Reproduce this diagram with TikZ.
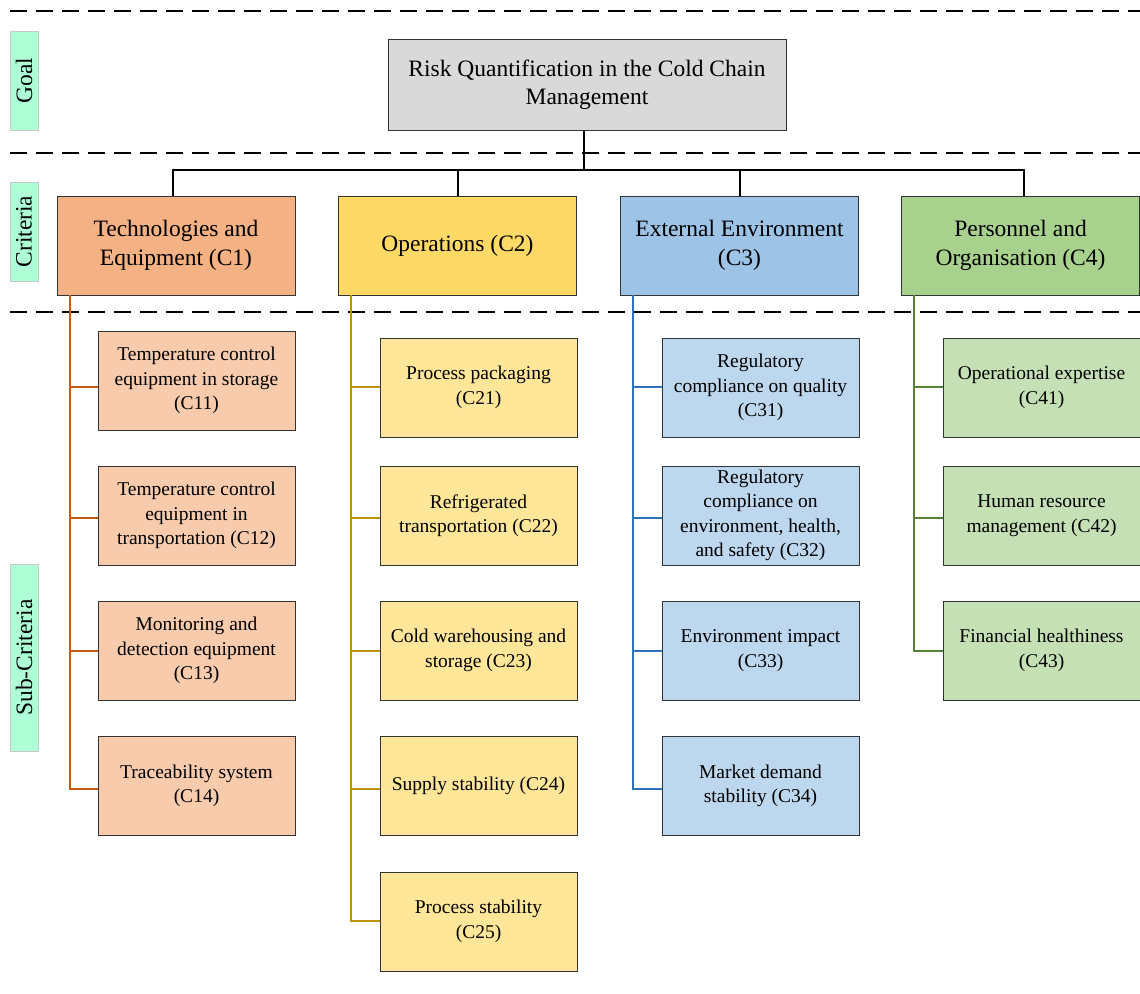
\documentclass[tikz,border=0pt]{standalone}
\usepackage{fontspec}
\setmainfont{Liberation Serif}
\usetikzlibrary{calc}
\definecolor{labfill}{HTML}{AEFFD6}
\definecolor{labdraw}{HTML}{C8C8C8}
\definecolor{goalfill}{HTML}{D9D9D9}
\definecolor{cA}{HTML}{F4B183}\definecolor{sA}{HTML}{F8CBAD}\definecolor{lA}{HTML}{C55A11}
\definecolor{cB}{HTML}{FFD966}\definecolor{sB}{HTML}{FFE699}\definecolor{lB}{HTML}{BF9000}
\definecolor{cC}{HTML}{9DC3E6}\definecolor{sC}{HTML}{BDD7EE}\definecolor{lC}{HTML}{2E75B6}
\definecolor{cD}{HTML}{A9D18E}\definecolor{sD}{HTML}{C5E0B4}\definecolor{lD}{HTML}{548235}
\tikzset{
  base/.style={draw=black!80, line width=1pt, align=center, inner sep=2pt, text=black},
  goalbox/.style={base, fill=goalfill, minimum width=398pt, minimum height=91pt, font=\fontsize{23.5}{28.5}\selectfont},
  critbox/.style={base, minimum width=238pt, minimum height=99pt, font=\fontsize{23.5}{28.5}\selectfont},
  subbox/.style={base, minimum width=197pt, minimum height=99pt, font=\fontsize{19.5}{24.5}\selectfont},
  levlab/.style={draw=labdraw, fill=labfill, line width=0.8pt, rotate=90, minimum height=28pt, inner sep=0pt, font=\fontsize{23.5}{28}\selectfont},
  sep/.style={line width=2pt, dash pattern=on 17pt off 9pt},
  bus/.style={line width=2pt, black},
  trA/.style={line width=2pt, lA},
  trB/.style={line width=2pt, lB},
  trC/.style={line width=2pt, lC},
  trD/.style={line width=2pt, lD},
}
\begin{document}
\begin{tikzpicture}[x=1pt,y=-1pt]
\useasboundingbox (0,0) rectangle (1140,993);
% separators
\draw[sep] (10,11) -- (1140,11);
\draw[sep] (10,153) -- (1140,153);
\draw[sep] (10,312) -- (1140,312);
% level labels
\node[levlab, minimum width=99pt] (lgoal) at (24,80.5) {Goal};
\node[levlab, minimum width=99pt] (lcrit) at (24,231.5) {Criteria};
\node[levlab, minimum width=187pt] (lsub) at (24,657.5) {Sub-Criteria};
% goal
\node[goalbox] (goal) at (587,85) {Risk Quantification in the Cold Chain\\Management};
% criteria
\node[critbox, fill=cA] (c1) at (176,245.5) {Technologies and\\Equipment (C1)};
\node[critbox, fill=cB] (c2) at (457.5,245.5) {Operations (C2)};
\node[critbox, fill=cC] (c3) at (739.5,245.5) {External Environment\\(C3)};
\node[critbox, fill=cD] (c4) at (1020.5,245.5) {Personnel and\\Organisation (C4)};
% bus
\coordinate (busc) at (584,170);
\draw[bus] (goal.south -| busc) -- (busc);
\draw[bus] ([xshift=-3pt]c1.north) |- (busc) -| ([xshift=3pt]c4.north);
\draw[bus] (c2.north) -- (c2.north |- busc);
\draw[bus] (c3.north) -- (c3.north |- busc);
% sub-criteria C1
\node[subbox, fill=sA] (c11) at (196.5,380.5) {Temperature control\\equipment in storage\\(C11)};
\node[subbox, fill=sA] (c12) at (196.5,515.5) {Temperature control\\equipment in\\transportation (C12)};
\node[subbox, fill=sA] (c13) at (196.5,650.5) {Monitoring and\\detection equipment\\(C13)};
\node[subbox, fill=sA] (c14) at (196.5,786) {Traceability system\\(C14)};
% sub-criteria C2
\node[subbox, fill=sB] (c21) at (478.5,387.5) {Process packaging\\(C21)};
\node[subbox, fill=sB] (c22) at (478.5,515.5) {Refrigerated\\transportation (C22)};
\node[subbox, fill=sB] (c23) at (478.5,650.5) {Cold warehousing and\\storage (C23)};
\node[subbox, fill=sB] (c24) at (478.5,786) {Supply stability (C24)};
\node[subbox, fill=sB] (c25) at (478.5,921.5) {Process stability\\(C25)};
% sub-criteria C3
\node[subbox, fill=sC] (c31) at (760.5,387.5) {Regulatory\\compliance on quality\\(C31)};
\node[subbox, fill=sC] (c32) at (760.5,515.5) {Regulatory\\compliance on\\environment, health,\\and safety (C32)};
\node[subbox, fill=sC] (c33) at (760.5,650.5) {Environment impact\\(C33)};
\node[subbox, fill=sC] (c34) at (760.5,786) {Market demand\\stability (C34)};
% sub-criteria C4
\node[subbox, fill=sD] (c41) at (1041.5,387.5) {Operational expertise\\(C41)};
\node[subbox, fill=sD] (c42) at (1041.5,515.5) {Human resource\\management (C42)};
\node[subbox, fill=sD] (c43) at (1041.5,650.5) {Financial healthiness\\(C43)};
% branch points
\coordinate (b1) at (0,387);
\coordinate (b2) at (0,518);
\coordinate (b3) at (0,651);
\coordinate (b4) at (0,789);
\coordinate (b5) at (0,921);
% trunks
\coordinate (t1) at (70,295);
\coordinate (t2) at (351,295);
\coordinate (t3) at (633,295);
\coordinate (t4) at (914,295);
\draw[trA] (t1) |- (c14.west |- b4);
\draw[trA] (t1 |- b1) -- (c11.west |- b1);
\draw[trA] (t1 |- b2) -- (c12.west |- b2);
\draw[trA] (t1 |- b3) -- (c13.west |- b3);
\draw[trB] (t2) |- (c25.west |- b5);
\draw[trB] (t2 |- b1) -- (c21.west |- b1);
\draw[trB] (t2 |- b2) -- (c22.west |- b2);
\draw[trB] (t2 |- b3) -- (c23.west |- b3);
\draw[trB] (t2 |- b4) -- (c24.west |- b4);
\draw[trC] (t3) |- (c34.west |- b4);
\draw[trC] (t3 |- b1) -- (c31.west |- b1);
\draw[trC] (t3 |- b2) -- (c32.west |- b2);
\draw[trC] (t3 |- b3) -- (c33.west |- b3);
\draw[trD] (t4) |- (c43.west |- b3);
\draw[trD] (t4 |- b1) -- (c41.west |- b1);
\draw[trD] (t4 |- b2) -- (c42.west |- b2);
\end{tikzpicture}
\end{document}
